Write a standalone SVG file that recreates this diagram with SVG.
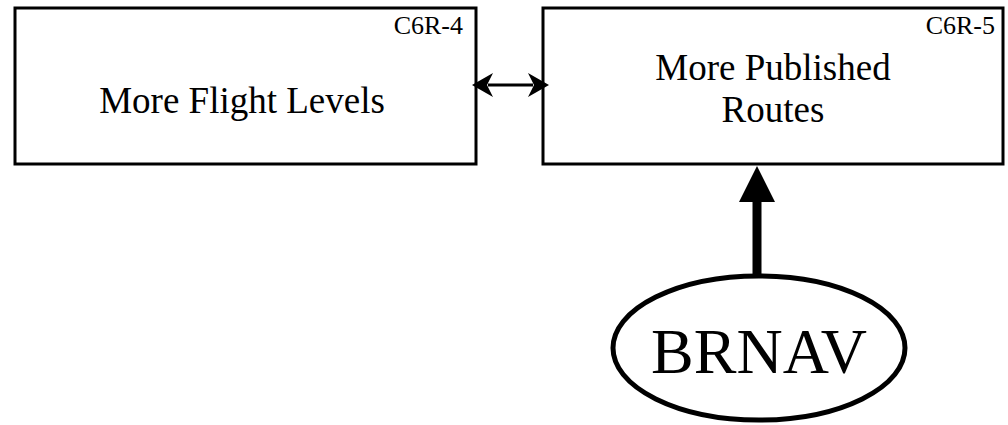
<svg xmlns="http://www.w3.org/2000/svg" width="1008" height="425" viewBox="0 0 1008 425">
<style>
.box{fill:#fff;stroke:#000;stroke-width:3}
.t{font-family:"Liberation Serif","Times New Roman",serif;fill:#000}
.main{font-size:37px;text-anchor:middle}
.id{font-size:26px;text-anchor:end}
</style>
<rect width="1008" height="425" fill="#fff"/>
<g id="node-c6r4">
<rect class="box" x="15" y="8" width="461" height="156"/>
<text class="t id" x="463" y="34">C6R-4</text>
<text class="t main" x="242" y="113">More Flight Levels</text>
</g>
<g id="node-c6r5">
<rect class="box" x="543" y="8" width="460" height="156"/>
<text class="t id" x="995" y="34">C6R-5</text>
<text class="t main" x="773" y="80">More Published</text>
<text class="t main" x="773" y="122">Routes</text>
</g>
<g id="node-brnav">
<ellipse cx="759" cy="348" rx="146" ry="72" fill="#fff" stroke="#000" stroke-width="5"/>
<text class="t" x="759" y="373" font-size="64" text-anchor="middle">BRNAV</text>
</g>
<g id="connectors">
<line x1="488" y1="85" x2="533" y2="85" stroke="#000" stroke-width="3"/>
<polygon points="472,85 493,73 487,85 493,97" fill="#000"/>
<polygon points="549,85 528,73 534,85 528,97" fill="#000"/>
<line x1="757" y1="275" x2="757" y2="198" stroke="#000" stroke-width="9"/>
<polygon points="757,166 775,202 739,202" fill="#000"/>
</g>
</svg>
